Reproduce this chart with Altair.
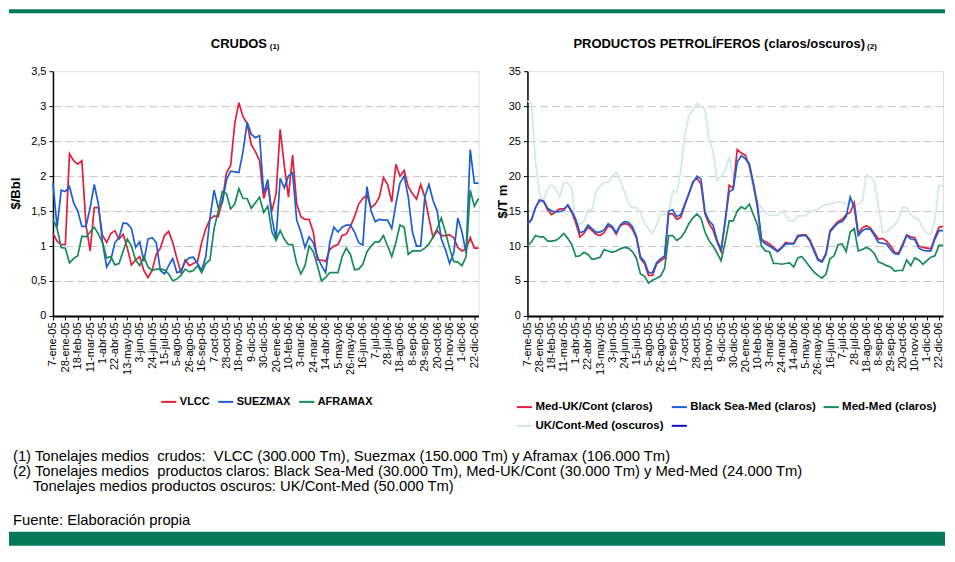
import altair as alt
import pandas as pd

FONT = "Liberation Sans"
GREEN_BAR = "#047a5a"

TICK_LABELS = ["7-ene-05", "28-ene-05", "18-feb-05", "11-mar-05", "1-abr-05", "22-abr-05",
               "13-may-05", "3-jun-05", "24-jun-05", "15-jul-05", "5-ago-05", "26-ago-05",
               "16-sep-05", "7-oct-05", "28-oct-05", "18-nov-05", "9-dic-05", "30-dic-05",
               "20-ene-06", "10-feb-06", "3-mar-06", "24-mar-06", "14-abr-06", "5-may-06",
               "26-may-06", "16-jun-06", "7-jul-06", "28-jul-06", "18-ago-06", "8-sep-06",
               "29-sep-06", "20-oct-06", "10-nov-06", "1-dic-06", "22-dic-06"]

# ---- Crudos ($/Bbl), weekly from 7-ene-05 ----
VLCC = [1.18, 1.07, 1.02, 1.02, 2.32, 2.22, 2.17, 2.22, 1.30, 0.93,
        1.55, 1.55, 1.15, 1.05, 1.18, 1.22, 1.10, 1.17, 0.97, 0.73,
        0.80, 0.85, 0.65, 0.55, 0.65, 0.88, 0.97, 1.15, 1.21, 1.05,
        0.82, 0.62, 0.80, 0.72, 0.75, 0.78, 1.05, 1.25, 1.38, 1.43,
        1.42, 1.65, 2.05, 2.15, 2.75, 3.05, 2.85, 2.75, 2.45, 2.35,
        2.22, 1.68, 1.87, 1.50, 1.75, 2.67, 2.15, 1.70, 2.30, 1.60,
        1.42, 1.38, 1.38, 1.20, 0.80, 0.80, 0.78, 0.95, 1.00, 1.02,
        1.15, 1.17, 1.28, 1.42, 1.60, 1.68, 1.73, 1.55, 1.60, 1.70,
        1.98, 1.88, 1.63, 2.17, 2.00, 2.08, 1.85, 1.75, 1.67, 1.88,
        1.70, 1.40, 1.12, 1.22, 1.15, 1.15, 1.16, 1.12, 0.98, 0.93,
        0.96, 1.12, 0.97, 0.97]
SUEZMAX = [1.90, 1.27, 1.80, 1.78, 1.85, 1.62, 1.50, 1.28, 1.28, 1.55,
           1.88, 1.60, 1.05, 0.70, 0.80, 1.05, 1.12, 1.33, 1.32, 1.25,
           0.98, 1.06, 0.78, 1.10, 1.12, 1.05, 0.65, 0.60, 0.72, 0.82,
           0.62, 0.64, 0.78, 0.83, 0.84, 0.75, 0.65, 0.85, 1.40, 1.80,
           1.55, 1.62, 1.95, 2.07, 2.06, 2.05, 2.35, 2.77, 2.60, 2.55,
           2.58, 1.75, 1.95, 1.40, 1.10, 1.97, 1.83, 2.00, 2.05, 1.37,
           1.20, 0.98, 1.13, 1.05, 0.85, 0.72, 0.62, 1.05, 1.27, 1.20,
           1.27, 1.30, 1.30, 1.20, 1.05, 1.01, 1.85, 1.50, 1.35, 1.38,
           1.37, 1.37, 1.25, 1.60, 1.90, 2.00, 1.70, 1.20, 1.00, 1.00,
           1.70, 1.88, 1.65, 1.50, 1.10, 0.95, 0.75, 0.90, 1.40, 1.20,
           0.90, 2.38, 1.90, 1.90]
AFRAMAX = [1.38, 1.25, 0.98, 0.97, 0.76, 0.82, 0.86, 1.14, 1.13, 1.20,
           1.27, 1.17, 1.05, 0.83, 0.85, 0.73, 0.75, 0.93, 1.10, 1.00,
           0.80, 0.72, 0.85, 0.70, 0.65, 0.67, 0.67, 0.66, 0.60, 0.50,
           0.53, 0.58, 0.67, 0.63, 0.65, 0.72, 0.62, 0.75, 0.80, 1.25,
           1.50, 1.78, 1.75, 1.53, 1.60, 1.82, 1.68, 1.68, 1.54, 1.62,
           1.70, 1.48, 1.57, 1.20, 1.08, 1.22, 1.10, 1.02, 1.02, 0.75,
           0.60, 0.72, 1.00, 0.92, 0.72, 0.50, 0.55, 0.62, 0.62, 0.62,
           0.85, 0.97, 0.88, 0.66, 0.67, 0.74, 0.92, 1.00, 1.06, 1.06,
           1.15, 1.00, 0.85, 1.05, 1.30, 1.27, 0.88, 0.93, 0.93, 0.93,
           0.97, 1.03, 1.13, 1.25, 1.40, 1.20, 0.97, 0.78, 0.77, 0.72,
           0.85, 1.80, 1.57, 1.68]

# ---- Productos ($/Tm) ----
MED_UK = [13.1, 13.7, 15.5, 16.5, 16.4, 15.2, 14.5, 14.9, 15.3, 15.3,
          15.8, 14.8, 13.3, 11.3, 11.8, 12.7, 12.2, 11.7, 11.5, 11.9,
          12.9, 12.6, 11.7, 12.9, 13.2, 13.1, 12.4, 11.2, 8.2, 7.5,
          5.8, 5.8, 7.4, 7.9, 8.3, 14.6, 14.6, 13.8, 14.1, 15.8,
          17.4, 19.2, 19.7, 18.9, 14.6, 13.2, 12.3, 10.6, 9.2, 13.5,
          18.7, 18.3, 23.8, 23.3, 23.0, 21.5, 18.8, 15.5, 11.0, 10.6,
          10.3, 9.8, 9.3, 9.8, 10.5, 10.4, 10.4, 11.5, 11.6, 11.6,
          10.9, 9.6, 8.2, 7.8, 9.0, 12.2, 12.9, 13.5, 13.8, 14.5,
          14.8, 16.2, 11.8, 12.6, 12.9, 12.6, 11.8, 11.0, 11.1, 10.7,
          10.0, 9.1, 9.0, 10.3, 11.6, 11.3, 11.2, 10.0, 9.8, 9.7,
          9.6, 11.3, 12.7, 12.8]
BLACK_SEA = [13.2, 13.8, 15.5, 16.6, 16.4, 15.4, 15.0, 14.9, 14.9, 15.1,
             15.9, 15.0, 13.8, 11.9, 12.1, 13.0, 12.5, 12.0, 12.0, 12.3,
             13.2, 12.8, 11.9, 13.0, 13.5, 13.4, 12.8, 11.4, 8.5, 7.8,
             6.2, 6.2, 7.6, 8.2, 8.6, 15.0, 15.2, 14.2, 14.5, 16.0,
             17.5, 19.0, 20.0, 19.6, 14.9, 13.6, 13.0, 10.8, 9.5, 13.5,
             17.8, 18.1, 22.0, 22.9, 22.5, 21.8, 19.0, 16.0, 10.8, 10.3,
             10.0, 9.6, 9.2, 9.7, 10.3, 10.3, 10.3, 11.3, 11.5, 11.5,
             10.7, 9.3, 8.0, 7.7, 8.8, 12.0, 12.7, 13.3, 13.5, 14.2,
             17.0, 15.5, 11.5, 12.2, 12.5, 12.4, 11.5, 10.5, 10.4, 10.3,
             9.5, 8.9, 8.8, 10.0, 11.5, 11.0, 10.9, 9.7, 9.4, 9.3,
             9.3, 11.0, 12.2, 12.2]
MED_MED = [10.0, 10.6, 11.5, 11.3, 11.3, 10.7, 10.7, 10.8, 11.2, 11.8,
           11.1, 10.2, 8.5, 8.6, 9.1, 8.8, 8.1, 8.2, 8.4, 9.5,
           9.3, 9.1, 9.3, 9.6, 9.8, 9.7, 9.2, 8.3, 6.0, 5.7,
           4.7, 5.1, 5.4, 5.7, 6.8, 11.5, 11.5, 10.8, 11.2, 12.0,
           13.2, 14.0, 14.6, 14.0, 12.0, 10.8, 10.0, 9.0, 7.9, 10.5,
           13.6, 13.6, 15.0, 15.6, 15.3, 16.0, 14.5, 13.0, 10.0, 9.3,
           9.2, 7.5, 7.5, 7.4, 7.5, 7.6, 7.0, 8.3, 8.5, 7.8,
           7.0, 6.3, 5.8, 5.4, 6.0, 8.2, 8.6, 10.2, 10.3, 9.2,
           12.0, 12.5, 9.3, 9.5, 9.8, 9.5, 8.9, 7.7, 7.5, 7.2,
           7.0, 6.4, 6.5, 6.5, 8.0, 7.2, 8.3, 8.0, 7.4, 7.9,
           8.4, 8.6, 10.1, 10.1]
UK_CONT = [30.8, 30.3, 22.0, 17.5, 16.5, 18.2, 18.7, 18.2, 17.0, 19.1,
           19.0, 18.2, 13.0, 13.2, 13.5, 15.2, 15.2, 17.8, 18.6, 19.1,
           19.1, 20.0, 20.5, 19.5, 17.8, 16.2, 15.5, 15.5, 14.8, 13.2,
           12.5, 11.8, 13.0, 14.5, 14.5, 14.8, 17.9, 17.6, 20.8, 26.0,
           28.6, 29.5, 30.4, 30.0, 29.5, 25.5, 23.5, 19.4, 20.0, 20.7,
           22.8, 19.8, 22.0, 23.0, 22.5, 21.0, 18.0, 16.2, 15.5, 14.8,
           14.4, 14.4, 14.4, 15.0, 14.4, 13.6, 13.6, 14.3, 14.3, 14.3,
           14.8, 15.1, 15.2, 15.7, 15.9, 16.0, 16.2, 16.3, 16.3, 16.0,
           15.8, 15.8, 16.0, 16.4, 20.2, 19.9, 19.2, 15.6, 12.0, 12.0,
           12.5, 13.0, 13.8, 15.6, 15.5, 14.5, 14.0, 13.8, 12.5, 11.8,
           11.7, 13.8, 18.7, 18.6]

CRUDE_NAMES = ["VLCC", "SUEZMAX", "AFRAMAX"]
CRUDE_COLORS = ["#e31e3c", "#1b5fd2", "#168a58"]
PROD_NAMES = ["Med-UK/Cont (claros)", "Black Sea-Med (claros)", "Med-Med (claros)",
              "UK/Cont-Med (oscuros)", " "]
PROD_COLORS = ["#e31e3c", "#1b5fd2", "#168a58", "#d3e9e4", "#1010c8"]

NOTES = [
    "(1) Tonelajes medios \u00a0crudos: \u00a0VLCC (300.000 Tm), Suezmax (150.000 Tm) y Aframax (106.000 Tm)",
    "(2) Tonelajes medios \u00a0productos claros: Black Sea-Med (30.000 Tm), Med-UK/Cont (30.000 Tm) y Med-Med (24.000 Tm)",
    "Tonelajes medios productos oscuros: UK/Cont-Med (50.000 Tm)",
    "Fuente: Elaboración propia",
]

weeks = list(range(len(VLCC)))


def to_long(field, names, series):
    return pd.DataFrame({
        "semana": [w for _ in series for w in weeks],
        field: [n for n, s in zip(names, series) for _ in s],
        "valor": [v for s in series for v in s],
    })


crude_df = to_long("crudo", CRUDE_NAMES, [VLCC, SUEZMAX, AFRAMAX])
prod_df = to_long("producto", PROD_NAMES[:4], [MED_UK, BLACK_SEA, MED_MED, UK_CONT])
one = pd.DataFrame({"k": [0]})

LABEL_EXPR = "[" + ",".join("'%s'" % t for t in TICK_LABELS) + "][round(datum.value / 3)]"


def x_enc():
    return alt.X("semana:Q", scale=alt.Scale(domain=[0, len(weeks) - 1], nice=False, zero=False),
                 axis=alt.Axis(values=list(range(0, len(weeks), 3)), labelExpr=LABEL_EXPR,
                               labelAngle=-90, labelOverlap=False, labelBound=False, labelFlush=False,
                               grid=False, title=None, domainColor="black", domainWidth=2,
                               tickColor="black", tickSize=4, labelFont=FONT, labelFontSize=11,
                               labelColor="black", labelPadding=2))


def y_enc(vals, top, title, title_x, title_y, label_expr=None):
    kw = {}
    if label_expr:
        kw["labelExpr"] = label_expr
    return alt.Y("valor:Q", scale=alt.Scale(domain=[0, top], nice=False),
                 axis=alt.Axis(values=vals, title=title, titleX=title_x, titleY=title_y,
                               titleFont=FONT, titleFontSize=13, titleFontWeight="bold",
                               titleColor="black", titleAngle=-90, titleBaseline="middle",
                               titleAlign="center",
                               grid=True, gridColor="#c4c4c4", gridDash=[8, 4], gridWidth=1,
                               gridOpacity={"condition": {"test": "datum.value == 0 || datum.value >= %s" % top,
                                                          "value": 0}, "value": 1},
                               domainColor="black", domainWidth=1.5, tickColor="black", tickSize=4,
                               labelFont=FONT, labelFontSize=11, labelColor="black", labelPadding=3,
                               **kw))


def legend(x, y, cols, size, col_pad):
    return alt.Legend(orient="none", legendX=x, legendY=y, direction="horizontal", columns=cols,
                      title=None, symbolType="stroke", symbolStrokeWidth=2, symbolSize=230,
                      labelFont=FONT, labelFontSize=size, labelFontWeight="bold", labelColor="black",
                      labelOffset=2, columnPadding=col_pad, rowPadding=4, padding=0)


def text(t, x, y, size, weight="normal", align="left"):
    return alt.Chart(one).mark_text(text=t, font=FONT, fontSize=size, fontWeight=weight,
                                    align=align, baseline="middle", color="black").encode(
        x=alt.value(x), y=alt.value(y))


def band(x1, x2, y1, y2):
    return alt.Chart(one).mark_rect(color=GREEN_BAR).encode(
        x=alt.value(x1), x2=alt.value(x2), y=alt.value(y1), y2=alt.value(y2))


def series_layers(df, field, names, colors, order, yenc, leg):
    color = alt.Color(field + ":N", scale=alt.Scale(domain=names, range=colors), legend=leg)
    return [alt.Chart(df).transform_filter(alt.datum[field] == n).mark_line(strokeWidth=1.7).encode(
        x=x_enc(), y=yenc, color=color) for n in order]


# Left panel (plot area origin = page (52, 70))
left_y = y_enc([0, 0.5, 1, 1.5, 2, 2.5, 3, 3.5], 3.5, "$/Bbl", -37, 122,
               "replace(format(datum.value, '.1~f'), '.', ',')")
left_lines = series_layers(crude_df, "crudo", CRUDE_NAMES, CRUDE_COLORS, CRUDE_NAMES, left_y,
                           legend(107, 322, 3, 11, 4))
left = alt.layer(
    band(-44, 893, -62, -58),
    *left_lines,
    text("CRUDOS", 158, -27, 13, "bold"),
    text("(1)", 217, -24, 8, "bold"),
    text(NOTES[0], -40, 386, 14.8),
    text(NOTES[1], -40, 401, 14.8),
    text(NOTES[2], -20, 416, 14.8),
    text(NOTES[3], -40, 450, 14.8),
    band(-44, 893, 461, 475),
).properties(width=426, height=245)

# Right panel (plot area origin = page (527, 70))
right_y = y_enc([0, 5, 10, 15, 20, 25, 30, 35], 35, "$/T m", -25, 130)
right_lines = series_layers(prod_df, "producto", PROD_NAMES, PROD_COLORS,
                            ["UK/Cont-Med (oscuros)", "Med-Med (claros)", "Med-UK/Cont (claros)",
                             "Black Sea-Med (claros)"], right_y, legend(-12, 327, 3, 11.5, 3))
right = alt.layer(
    *right_lines,
    text("PRODUCTOS PETROLÍFEROS (claros/oscuros)", 46, -27, 13, "bold"),
    text("(2)", 340, -24, 8, "bold"),
).properties(width=416, height=245)

chart = alt.hconcat(left, right, spacing=49, bounds="flush").resolve_scale(
    color="independent"
).resolve_legend(color="independent").properties(
    padding=0
).configure_view(stroke="black", strokeWidth=1).configure(font=FONT)

chart.save("out.html", embed_options={"renderer": "svg", "actions": False})
